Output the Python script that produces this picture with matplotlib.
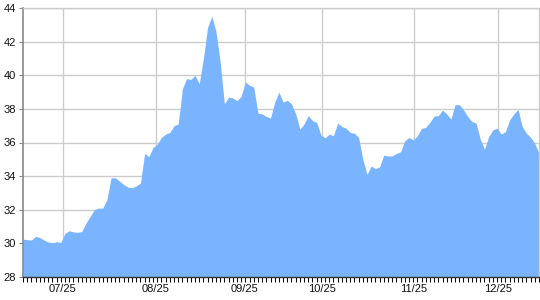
import matplotlib
matplotlib.use("Agg")
import matplotlib.pyplot as plt
import numpy as np

prices = [30.25, 30.22, 30.2, 30.42, 30.35, 30.2, 30.08, 30.03, 30.1, 30.05,
          30.6, 30.75, 30.68, 30.66, 30.7, 31.2, 31.6, 32.0, 32.1, 32.1,
          32.6, 33.9, 33.9, 33.7, 33.5, 33.35, 33.3, 33.42, 33.6, 35.35,
          35.15, 35.7, 35.9, 36.3, 36.5, 36.6, 37.0, 37.1, 39.2, 39.8,
          39.75, 40.0, 39.5, 41.0, 42.85, 43.5, 42.6, 40.8, 38.3, 38.7,
          38.65, 38.48, 38.75, 39.6, 39.4, 39.3, 37.75, 37.7, 37.55, 37.45,
          38.4, 39.0, 38.4, 38.5, 38.3, 37.7, 36.8, 37.1, 37.6, 37.3,
          37.2, 36.45, 36.28, 36.5, 36.4, 37.15, 36.95, 36.85, 36.6, 36.55,
          36.3, 35.0, 34.1, 34.6, 34.45, 34.55, 35.25, 35.2, 35.2, 35.35,
          35.45, 36.1, 36.3, 36.15, 36.4, 36.84, 36.9, 37.2, 37.58, 37.6,
          37.93, 37.7, 37.4, 38.25, 38.25, 37.95, 37.55, 37.25, 37.15, 36.2,
          35.6, 36.35, 36.75, 36.85, 36.5, 36.65, 37.35, 37.7, 37.97, 36.95,
          36.55, 36.3, 35.95, 35.35]

date_labels = ["07/25", "08/25", "09/25", "10/25", "11/25", "12/25"]
date_label_pos = [9.5, 31.7, 52.9, 71.2, 93.1, 113.3]
y_ticks = [28, 30, 32, 34, 36, 38, 40, 42, 44]

plt.rcParams['font.family'] = ['Liberation Sans', 'DejaVu Sans']

fig = plt.figure(figsize=(5.4, 3.0), dpi=100)
ax = fig.add_axes([23/540, 1 - 277/300, 516/540, 269/300])

x = np.arange(len(prices))
ax.fill_between(x, 28, prices, color='#7ab4ff', linewidth=0, zorder=2)

ax.set_xlim(0, len(prices) - 1)
ax.set_ylim(28, 44)

ax.set_yticks(y_ticks)
ax.set_yticklabels([str(v) for v in y_ticks], fontsize=8, color='#111111')
ax.set_xticks(date_label_pos)
ax.set_xticklabels(date_labels, fontsize=8, color='#111111')
ax.set_xticks(x, minor=True)

ax.grid(True, which='major', color='#cccccc', linewidth=1.0, zorder=1)
ax.set_axisbelow(True)

ax.tick_params(axis='x', which='major', length=0, pad=5)
ax.tick_params(axis='x', which='minor', length=3.5, width=0.7, color='#000000', direction='out')
ax.tick_params(axis='y', which='major', length=3, width=0.8, color='#888888', pad=2)

for side in ['top', 'right']:
    ax.spines[side].set_color('#cccccc')
    ax.spines[side].set_linewidth(1.0)
ax.spines['left'].set_color('#888888')
ax.spines['left'].set_linewidth(1.2)
ax.spines['bottom'].set_color('#333333')
ax.spines['bottom'].set_linewidth(1.0)

fig.savefig('out.png', dpi=100)
